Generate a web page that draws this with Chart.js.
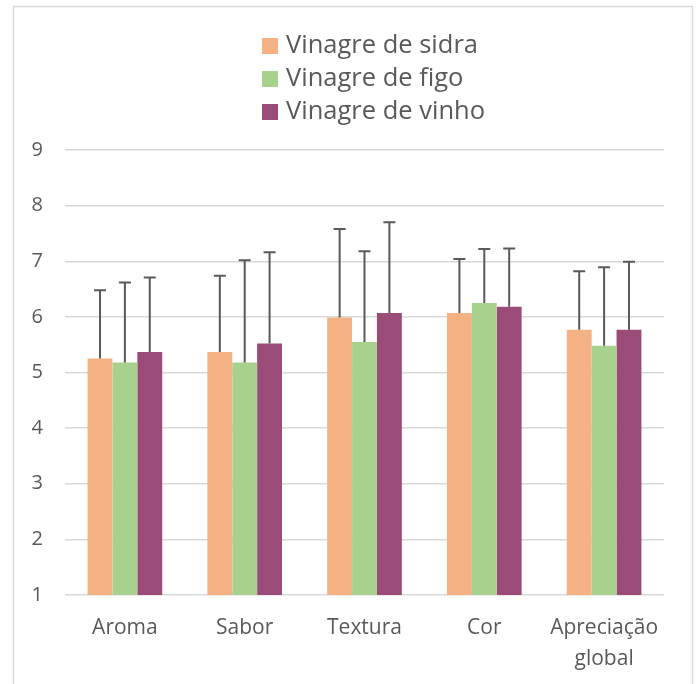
<!DOCTYPE html>
<html>
<head>
<meta charset="utf-8">
<script src="https://cdn.jsdelivr.net/npm/chart.js@4/dist/chart.umd.min.js"></script>
<style>
  html, body { margin: 0; padding: 0; background: #fff; }
  #wrap { position: relative; width: 700px; height: 684px; }
</style>
</head>
<body>
<div id="wrap"><canvas id="chart" width="700" height="684"></canvas></div>
<script>
// --- data ---
const categories = ['Aroma', 'Sabor', 'Textura', 'Cor', ['Apreciação', 'global']];
const seriesNames = ['Vinagre de sidra', 'Vinagre de figo', 'Vinagre de vinho'];

const sidraValues = [5.25, 5.37, 5.99, 6.07, 5.77];
const figoValues  = [5.18, 5.18, 5.55, 6.25, 5.48];
const vinhoValues = [5.37, 5.52, 6.07, 6.18, 5.77];

// upper error bars (standard deviation)
const sidraErrors = [1.23, 1.37, 1.59, 0.97, 1.05];
const figoErrors  = [1.44, 1.84, 1.63, 0.97, 1.41];
const vinhoErrors = [1.34, 1.64, 1.63, 1.05, 1.22];

const yTicks = [1, 2, 3, 4, 5, 6, 7, 8, 9];

const colors = ['#F4B183', '#A9D18E', '#9A4B78'];
const textColor = '#595959';
const fontFamily = '"Open Sans", "Noto Sans", sans-serif';

// --- plugins ---
// frame around the whole chart
const framePlugin = {
    id: 'frame',
    beforeDraw(chart) {
        const ctx = chart.ctx;
        ctx.save();
        ctx.strokeStyle = '#D9D9D9';
        ctx.lineWidth = 1.5;
        ctx.strokeRect(13.5, 6.5, 679, 684);
        ctx.restore();
    }
};

// error bars (upper only, with cap)
const errorBarPlugin = {
    id: 'errorBars',
    afterDatasetsDraw(chart) {
        const ctx = chart.ctx;
        const yScale = chart.scales.y;
        ctx.save();
        ctx.strokeStyle = '#5A5A5A';
        ctx.lineWidth = 2;
        chart.data.datasets.forEach((ds, i) => {
            const meta = chart.getDatasetMeta(i);
            meta.data.forEach((bar, j) => {
                const top = yScale.getPixelForValue(ds.data[j] + ds.errors[j]);
                ctx.beginPath();
                ctx.moveTo(bar.x, bar.y);
                ctx.lineTo(bar.x, top);
                ctx.moveTo(bar.x - 6, top);
                ctx.lineTo(bar.x + 6, top);
                ctx.stroke();
            });
        });
        ctx.restore();
    }
};

// vertical legend at the top
const stackedLegendPlugin = {
    id: 'stackedLegend',
    afterDraw(chart) {
        const ctx = chart.ctx;
        const left = 262;
        const rowY = [46, 79, 112];
        ctx.save();
        ctx.font = '25.5px ' + fontFamily;
        ctx.textBaseline = 'middle';
        ctx.textAlign = 'left';
        chart.data.datasets.forEach((ds, i) => {
            ctx.fillStyle = ds.backgroundColor;
            ctx.fillRect(left, rowY[i] - 8, 16, 16);
            ctx.fillStyle = textColor;
            ctx.fillText(ds.label, left + 24, rowY[i]);
        });
        ctx.restore();
    }
};

new Chart(document.getElementById('chart'), {
    type: 'bar',
    data: {
        labels: categories,
        datasets: [
            { label: seriesNames[0], data: sidraValues, errors: sidraErrors, backgroundColor: colors[0] },
            { label: seriesNames[1], data: figoValues,  errors: figoErrors,  backgroundColor: colors[1] },
            { label: seriesNames[2], data: vinhoValues, errors: vinhoErrors, backgroundColor: colors[2] }
        ]
    },
    options: {
        responsive: false,
        animation: false,
        layout: { padding: { top: 150, right: 36, bottom: 0, left: 0 } },
        datasets: {
            bar: { barPercentage: 1, categoryPercentage: 0.623, borderWidth: 0 }
        },
        plugins: {
            legend: { display: false },
            tooltip: { enabled: false }
        },
        scales: {
            x: {
                grid: { display: false },
                border: { display: false },
                ticks: {
                    color: textColor,
                    padding: 10,
                    maxRotation: 0,
                    font: { family: fontFamily, size: 21, lineHeight: 1.45 }
                },
                afterFit(scale) { scale.height = 89; }
            },
            y: {
                min: yTicks[0],
                max: yTicks[yTicks.length - 1],
                grid: { color: '#D9D9D9', lineWidth: 1.5, drawTicks: false },
                border: { display: false },
                ticks: {
                    stepSize: 1,
                    color: textColor,
                    padding: 22,
                    font: { family: fontFamily, size: 20 }
                },
                afterFit(scale) { scale.width = 65; }
            }
        }
    },
    plugins: [framePlugin, errorBarPlugin, stackedLegendPlugin]
});
</script>
</body>
</html>
